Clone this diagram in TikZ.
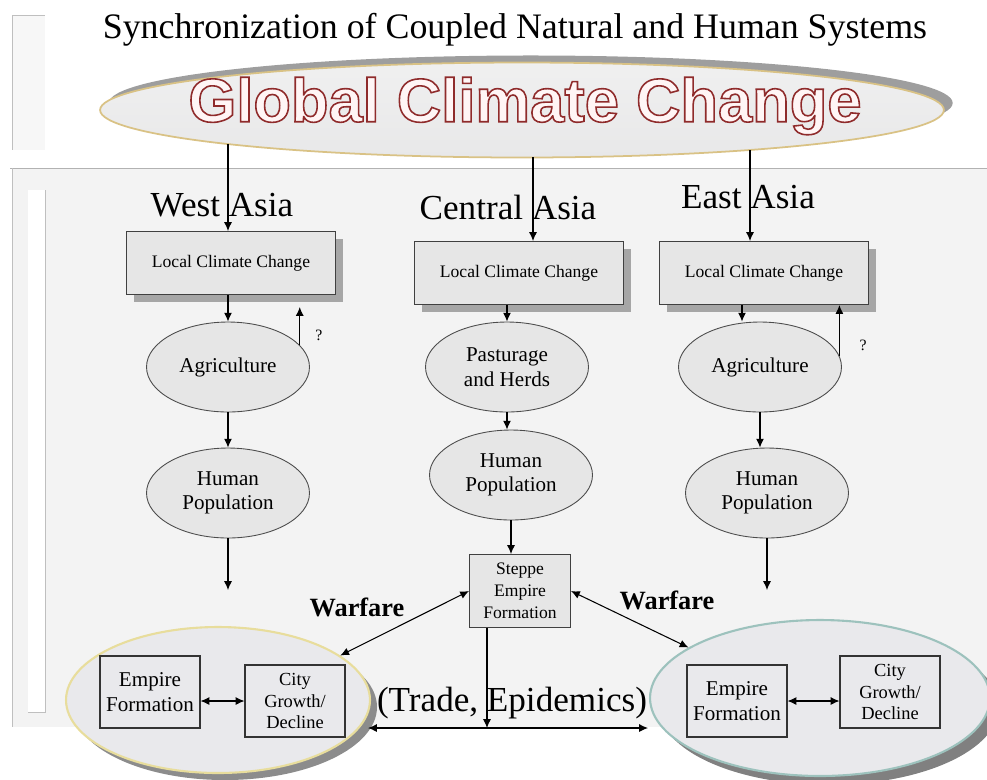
\documentclass[tikz,border=0pt]{standalone}
\usepackage{fontspec}
\setmainfont{Liberation Serif}
\newfontfamily\gccfont{Liberation Sans}
\usetikzlibrary{arrows.meta,positioning,calc,shapes,shadows}

\definecolor{panelgray}{HTML}{F3F3F3}
\definecolor{boxgray}{HTML}{E6E6E6}
\definecolor{ovalgray}{HTML}{E9E9EC}
\definecolor{goldrim}{HTML}{D9C285}
\definecolor{yellowrim}{HTML}{E8DD9C}
\definecolor{tealrim}{HTML}{9DC2BD}
% outlined letters: stroke dark red, fill near white
\newcommand{\outlined}[1]{\special{pdf:literal direct q 0.56 0.17 0.17 RG 1 0.96 0.96 rg 2 Tr 0.9 w}#1\special{pdf:literal direct Q}}

\begin{document}
\begin{tikzpicture}[x=0.02cm,y=-0.02cm,
		link/.style={-{Latex[length=5pt,width=4.5pt]},line width=0.6pt},
		both/.style={{Latex[length=5pt,width=4.5pt]}-{Latex[length=5pt,width=4.5pt]},line width=0.6pt},
		lccbox/.style={draw=black!75,fill=boxgray,line width=0.6pt,minimum width=4.18cm,minimum height=1.26cm,
			font=\fontsize{10}{12}\selectfont,drop shadow={shadow xshift=4pt,shadow yshift=-4pt,fill=black!35,opacity=1}},
		oval/.style={ellipse,draw=black!70,fill=boxgray,line width=0.5pt,minimum width=3.26cm,minimum height=1.8cm,
			inner sep=0pt,align=center,font=\fontsize{12}{14}\selectfont},
		empbox/.style={draw=black!80,fill=ovalgray,line width=0.6pt,minimum width=2cm,minimum height=1.44cm,
			inner sep=1pt,align=center},
		region/.style={font=\fontsize{20}{24}\selectfont},
		war/.style={font=\bfseries\fontsize{15}{18}\selectfont}]
	\useasboundingbox (0,0) rectangle (987,779);
	% background panels
	\fill[black!3] (12,15) rectangle (45,150);
	\draw[black!25] (45,15) -- (12,15) -- (12,150);
	\fill[panelgray] (12,168) rectangle (987,727);
	\draw[black!30] (10,168) -- (987,168);
	\draw[black!25] (12,168) -- (12,727);
	\fill[white] (28,190) rectangle (45,712);
	\draw[black!25] (45,190) -- (45,712) -- (28,712);
	% title
	\node (title) at (515,30) {\fontsize{20.4}{24}\selectfont Synchronization of Coupled Natural and Human Systems};
	\node[ellipse,draw=goldrim,line width=1pt,top color=black!6,bottom color=blue!4!black!9,minimum width=16.88cm,minimum height=1.9cm,
		inner sep=0pt,drop shadow={shadow xshift=5pt,shadow yshift=4pt,fill=black!38,opacity=1}] (gcc) at (522,110) {};
	\node[font=\gccfont\bfseries\fontsize{35}{38}\selectfont] (gcctext) at (525,106) {\outlined{Global Climate Change}};
	% foot points of the three feeds on the rim of the big ellipse
	\coordinate (gccW) at (228,144);
	\coordinate (gccC) at (533,157);
	\coordinate (gccE) at (750,150);
	% region labels
	\node[region] (wlab) at (222,205) {West Asia};
	\node[region] (clab) at (508,207) {Central Asia};
	\node[region] (elab) at (748,197) {East Asia};
	% local climate boxes
	\node[lccbox] (wlcc) at (231,263) {Local Climate Change};
	\node[lccbox] (clcc) at (519,273) {Local Climate Change};
	\node[lccbox] (elcc) at (764,273) {Local Climate Change};
	\draw[link] (gccW) -- (gccW |- wlcc.north);
	\draw[link] (gccC) -- (gccC |- clcc.north);
	\draw[link] (gccE) -- (gccE |- elcc.north);
	% west asia
	\node[oval] (wagri) at (228,367) {Agriculture};
	\node[oval] (whum) at (228,493) {Human\\Population};
	\coordinate (wend) at (228,590);
	\draw[link] (wlcc.south -| wagri) -- (wagri.north);
	\draw[link] (wagri.south) -- (whum.north);
	\draw[link] (whum.south) -- (wend);
	\draw[link,shorten >=0.24cm] (wagri.17) -- (wagri.17 |- wlcc.south);
	\node[font=\fontsize{9}{10}\selectfont] (wq) at (319,335) {?};
	% central asia
	\node[oval] (cpast) at (507,367) {Pasturage\\and Herds};
	\node[oval] (chum) at (511,475) {Human\\Population};
	\node[draw=black!75,fill=boxgray,line width=0.6pt,minimum width=2.02cm,minimum height=1.46cm,inner sep=1pt,align=center,
		font=\fontsize{10}{12.5}\selectfont] (steppe) at (520,591) {Steppe\\Empire\\Formation};
	\draw[link] (clcc.south -| cpast) -- (cpast.north);
	\draw[link] (cpast.south) -- (cpast.south |- chum.north);
	\draw[link] (chum.south) -- (chum.south |- steppe.north);
	% east asia
	\node[oval] (eagri) at (760,367) {Agriculture};
	\node[oval] (ehum) at (767,493) {Human\\Population};
	\coordinate (eend) at (767,590);
	\draw[link] (elcc.south -| 742,0) -- (eagri.north -| 742,0);
	\draw[link] (eagri.south) -- (eagri.south |- ehum.north);
	\draw[link] (ehum.south) -- (eend);
	\draw[link] (eagri.8) -- (eagri.8 |- elcc.south);
	\node[font=\fontsize{9}{10}\selectfont] (eq) at (863,345) {?};
	% empires
	\node[ellipse,draw=yellowrim,line width=1.2pt,fill=ovalgray,minimum width=6.08cm,minimum height=2.92cm,
		drop shadow={shadow xshift=4pt,shadow yshift=-4pt,fill=black!45,opacity=1}] (wbig) at (218,700) {};
	\node[ellipse,draw=tealrim,line width=1.2pt,fill=ovalgray,minimum width=6.8cm,minimum height=3.12cm,
		drop shadow={shadow xshift=5pt,shadow yshift=-5pt,fill=black!50,opacity=1}] (ebig) at (820,698) {};
	\node[empbox,font=\fontsize{12}{14.5}\selectfont] (wemp) at (150,692) {Empire\\Formation};
	\node[empbox,font=\fontsize{10.5}{12.2}\selectfont] (wcity) at (295,701) {City\\Growth/\\Decline};
	\node[empbox,font=\fontsize{12}{14.5}\selectfont] (eemp) at (737,701) {Empire\\Formation};
	\node[empbox,font=\fontsize{10.5}{12.2}\selectfont] (ecity) at (890,692) {City\\Growth/\\Decline};
	\draw[both] (wemp.east |- wcity) -- (wcity.west);
	\draw[both] (eemp.east) -- (eemp.east -| ecity.west);
	% warfare and trade
	\draw[both] (steppe.west) -- (wbig.20.7);
	\draw[both] (steppe.east) -- (ebig.159.9);
	\node[war] (wwar) at (357,607) {Warfare};
	\node[war] (ewar) at (667,600) {Warfare};
	\node[region] (trade) at (512,703) {(Trade, Epidemics)};
	\coordinate (tradeW) at (368,728);
	\coordinate (tradeE) at (648,728);
	\coordinate (sdrop) at ($(steppe.south west)+(18,0)$);
	\draw[both] (tradeW) -- (tradeE);
	\draw[link] (sdrop) -- (sdrop |- tradeE);
\end{tikzpicture}
\end{document}
